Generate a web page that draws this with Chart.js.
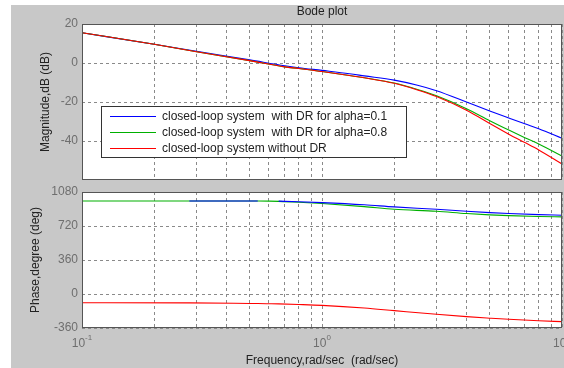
<!DOCTYPE html>
<html>
<head>
<meta charset="utf-8">
<script src="https://cdn.jsdelivr.net/npm/chart.js@4.4.0/dist/chart.umd.min.js"></script>
<style>
  body { margin: 0; background: #fff; }
  #fig { position: absolute; left: 11px; top: 5px; width: 553px; height: 363px; background: #c8c8c8; }
  canvas { position: absolute; left: 0; }
  #mag { top: 0; }
  #phase { top: 186px; }
</style>
</head>
<body>
<div id="fig"></div>
<canvas id="mag" width="564" height="186"></canvas>
<canvas id="phase" width="564" height="182"></canvas>
<script>
// Magnitude curves (dB)
const magFreq = [0.1, 0.2, 0.3, 0.5, 0.7, 0.8, 1, 1.3, 1.5, 2, 2.5, 3, 4, 5, 6, 7, 8, 10];
const magAlpha01 = [15.5, 9.6, 6.0, 1.6, -1.4, -2.4, -3.8, -5.5, -6.6, -8.8, -11.4, -14.2, -20.0, -24.6, -28.2, -31.2, -33.7, -38.6];
const magAlpha08 = [15.5, 9.6, 5.8, 1.2, -2.0, -2.8, -4.4, -6.4, -7.6, -10.3, -13.6, -16.8, -23.4, -29.6, -34.4, -38.3, -41.5, -47.7];
const magNoDR = [15.5, 9.6, 5.8, 1.2, -2.0, -2.8, -4.4, -6.4, -7.6, -10.4, -13.8, -17.2, -24.2, -31.0, -36.5, -40.8, -44.6, -51.8];

// Phase curves (deg)
const phaseFreq = [0.1, 0.28, 0.5, 0.54, 0.6, 0.66, 0.8, 1, 1.5, 2, 3, 4, 5, 6, 8, 10];
const phaseAlpha01 = [null, 985, 985, 985, null, 983, 977, 968, 945, 922, 897, 876, 862, 852, 840, 834];
const phaseAlpha08 = [985, 985, 984, 984, 983, 981, 972, 958, 925, 897, 876, 852, 838, 830, 821, 817];
const phaseNoDR = [-93, -94, -100, -101, -103, -105, -111, -120, -148, -176, -215, -240, -256, -268, -283, -293];

const seriesNames = [
    'closed-loop system  with DR for alpha=0.1',
    'closed-loop system  with DR for alpha=0.8',
    'closed-loop system without DR'
];
const seriesColors = ['#0000ff', '#00b000', '#ff0000'];

const freqGrid = [0.1, 0.2, 0.3, 0.4, 0.5, 0.6, 0.7, 0.8, 0.9, 1, 2, 3, 4, 5, 6, 7, 8, 9, 10];
const decadeTicks = [0.1, 1, 10];
const decadeExps = ['-1', '0', '1'];
const magTicks = [20, 0, -20, -40];
const phaseTicks = [1080, 720, 360, 0, -360];

const family = "'Liberation Sans', Arial, sans-serif";
const tickColor = '#6e6e6e';
const textColor = '#222';
const gridColor = '#8a8a8a';

function pts(xs, ys) {
    return xs.map((x, i) => ({ x: x, y: ys[i] }));
}

// white plot area, box round it, title / legend / decade labels
const framePlugin = {
    id: 'frame',
    beforeDraw(chart) {
        const { ctx, chartArea: a } = chart;
        ctx.save();
        ctx.fillStyle = '#fff';
        ctx.fillRect(a.left, a.top, a.right - a.left, a.bottom - a.top);
        ctx.restore();
    },
    afterDraw(chart, args, opts) {
        const { ctx, chartArea: a } = chart;
        ctx.save();
        ctx.strokeStyle = '#555';
        ctx.lineWidth = 1;
        ctx.strokeRect(a.left + 0.5, a.top + 0.5, a.right - a.left - 1, a.bottom - a.top - 1);

        if (opts.title) {
            ctx.fillStyle = textColor;
            ctx.font = '12px ' + family;
            ctx.textAlign = 'center';
            ctx.textBaseline = 'middle';
            ctx.fillText(opts.title, (a.left + a.right) / 2, 12);
        }

        if (opts.legend) {
            const bx = a.left + 19, by = a.top + 82, bw = 305, bh = 51;
            ctx.fillStyle = '#fff';
            ctx.fillRect(bx, by, bw, bh);
            ctx.strokeStyle = '#333';
            ctx.strokeRect(bx + 0.5, by + 0.5, bw, bh);
            ctx.font = '12px ' + family;
            ctx.textAlign = 'left';
            ctx.textBaseline = 'middle';
            seriesNames.forEach((name, i) => {
                const y = by + 10.5 + 16 * i;
                ctx.strokeStyle = seriesColors[i];
                ctx.beginPath();
                ctx.moveTo(bx + 9, y);
                ctx.lineTo(bx + 55, y);
                ctx.stroke();
                ctx.fillStyle = textColor;
                ctx.fillText(name, bx + 61, y);
            });
        }

        if (opts.decades) {
            const xs = chart.scales.x;
            ctx.fillStyle = tickColor;
            ctx.textAlign = 'left';
            ctx.textBaseline = 'alphabetic';
            decadeTicks.forEach((v, i) => {
                ctx.font = '12px ' + family;
                const w1 = ctx.measureText('10').width;
                ctx.font = '8px ' + family;
                const w2 = ctx.measureText(decadeExps[i]).width;
                const x0 = xs.getPixelForValue(v) - (w1 + w2) / 2;
                ctx.font = '12px ' + family;
                ctx.fillText('10', x0, a.bottom + 19);
                ctx.font = '8px ' + family;
                ctx.fillText(decadeExps[i], x0 + w1, a.bottom + 12);
            });
        }
        ctx.restore();
    }
};

function xScale(height, title) {
    return {
        type: 'logarithmic',
        min: 0.1,
        max: 10,
        afterBuildTicks: s => { s.ticks = freqGrid.map(v => ({ value: v })); },
        afterFit: s => { s.height = height; s.paddingLeft = 0; s.paddingRight = 0; },
        ticks: { display: false },
        grid: { color: gridColor, drawTicks: false },
        border: { display: false, dash: [3, 3] },
        title: {
            display: !!title,
            text: title || '',
            color: textColor,
            font: { family: family, size: 12 },
            padding: 0
        }
    };
}

function yScale(min, max, ticks, title, titlePad) {
    return {
        min: min,
        max: max,
        afterBuildTicks: s => { s.ticks = ticks.map(v => ({ value: v })); },
        afterFit: s => { s.width = 82; s.paddingTop = 0; s.paddingBottom = 0; },
        ticks: {
            color: tickColor,
            font: { family: family, size: 12 },
            padding: 4,
            callback: v => String(v)
        },
        grid: { color: gridColor, drawTicks: false },
        border: { display: false, dash: [3, 3] },
        title: {
            display: true,
            text: title,
            color: textColor,
            font: { family: family, size: 12 },
            padding: { top: titlePad, bottom: 0 }
        }
    };
}

function line(label, data, color, order) {
    return {
        label: label,
        data: data,
        borderColor: color,
        borderWidth: 1.1,
        pointRadius: 0,
        fill: false,
        order: order,
        spanGaps: false,
        cubicInterpolationMode: 'monotone'
    };
}

new Chart(document.getElementById('mag'), {
    type: 'line',
    data: {
        datasets: [
            line(seriesNames[0], pts(magFreq, magAlpha01), seriesColors[0], 2),
            line(seriesNames[1], pts(magFreq, magAlpha08), seriesColors[1], 1),
            line(seriesNames[2], pts(magFreq, magNoDR), seriesColors[2], 0)
        ]
    },
    options: {
        responsive: false,
        animation: false,
        devicePixelRatio: 1,
        layout: { padding: { top: 24, right: 2, bottom: 6, left: 0 } },
        scales: {
            x: xScale(0, null),
            y: yScale(-60, 20, magTicks, 'Magnitude,dB (dB)', 38)
        },
        plugins: {
            legend: { display: false },
            tooltip: { enabled: false },
            frame: { title: 'Bode plot', legend: true }
        }
    },
    plugins: [framePlugin]
});

new Chart(document.getElementById('phase'), {
    type: 'line',
    data: {
        datasets: [
            line(seriesNames[0], pts(phaseFreq, phaseAlpha01), seriesColors[0], 0),
            line(seriesNames[1], pts(phaseFreq, phaseAlpha08), seriesColors[1], 1),
            line(seriesNames[2], pts(phaseFreq, phaseNoDR), seriesColors[2], 2)
        ]
    },
    options: {
        responsive: false,
        animation: false,
        devicePixelRatio: 1,
        layout: { padding: { top: 6, right: 2, bottom: 0, left: 0 } },
        scales: {
            x: xScale(40, 'Frequency,rad/sec  (rad/sec)'),
            y: yScale(-360, 1080, phaseTicks, 'Phase,degree (deg)', 28)
        },
        plugins: {
            legend: { display: false },
            tooltip: { enabled: false },
            frame: { decades: true }
        }
    },
    plugins: [framePlugin]
});
</script>
</body>
</html>
